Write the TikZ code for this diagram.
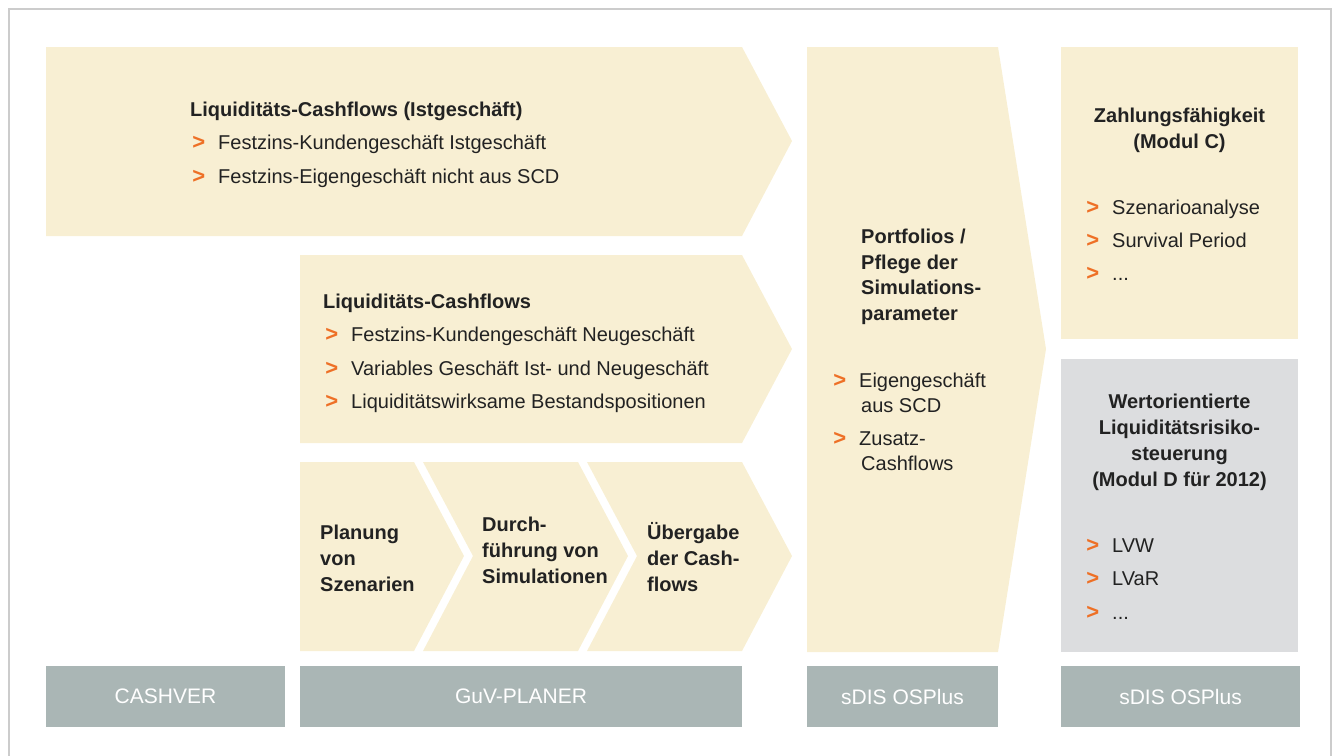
\documentclass[tikz,border=0pt]{standalone}
\usepackage{fontspec}
\setmainfont{Liberation Sans}
\usepackage{tikz}
\usetikzlibrary{positioning}

\definecolor{cream}{HTML}{F8EFD3}
\definecolor{barg}{HTML}{AAB6B5}
\definecolor{boxg}{HTML}{DCDDDF}
\definecolor{mark}{HTML}{EE7026}
\definecolor{ink}{HTML}{222222}
\definecolor{frame}{HTML}{CCCCCC}
\newcommand{\bul}{\llap{\textcolor{mark}{\fontsize{22}{26}\selectfont\bfseries >}\hspace{13pt}}}

\begin{document}
\begin{tikzpicture}[x=1pt, y=-1pt,
	txt/.style={text=ink, inner sep=0pt, font=\fontsize{20}{26}\selectfont},
	item/.style={txt, anchor=base west},
	hd/.style={txt, anchor=base west, font=\fontsize{20}{26}\selectfont\bfseries},
	hdc/.style={hd, anchor=base},
	bar/.style={fill=barg, text=white, inner sep=0pt, outer sep=0pt, minimum height=61pt, font=\fontsize{21}{26}\selectfont}]
	\useasboundingbox (0,0) rectangle (1332,755);
	\draw[frame, line width=1.2pt] (9,760) -- (9,9) -- (1331,9) -- (1331,760);

	\fill[cream] (46,47) -- (742,47) -- (792,141) -- (742,236) -- (46,236) -- cycle;
	\fill[cream] (300,255) -- (742,255) -- (792,349) -- (742,443) -- (300,443) -- cycle;
	\fill[cream] (300,462) -- (414,462) -- (464,556) -- (414,651) -- (300,651) -- cycle;
	\fill[cream] (423,462) -- (578,462) -- (628,556) -- (578,651) -- (423,651) -- (473,556) -- cycle;
	\fill[cream] (587,462) -- (742,462) -- (792,556) -- (742,651) -- (587,651) -- (637,556) -- cycle;
	\fill[cream] (807,47) -- (998,47) -- (1046,349) -- (998,652) -- (807,652) -- cycle;
	\fill[cream] (1061,47) rectangle (1298,339);
	\fill[boxg] (1061,359) rectangle (1298,652);

	\node[hd] (ist) at (190,116) {Liquiditäts-Cashflows (Istgeschäft)};
	\node[item] (ist1) at (218,149) {\bul Festzins-Kundengeschäft Istgeschäft};
	\node[item] (ist2) at (218,183) {\bul Festzins-Eigengeschäft nicht aus SCD};

	\node[hd] (neu) at (323,308) {Liquiditäts-Cashflows};
	\node[item] (neu1) at (351,341) {\bul Festzins-Kundengeschäft Neugeschäft};
	\node[item] (neu2) at (351,375) {\bul Variables Geschäft Ist- und Neugeschäft};
	\node[item] (neu3) at (351,408) {\bul Liquiditätswirksame Bestandspositionen};

	\node[hd] (plan) at (320,539) {Planung};
	\node[hd] (plan2) at (320,565) {von};
	\node[hd] (plan3) at (320,591) {Szenarien};
	\node[hd] (sim) at (482,531) {Durch-};
	\node[hd] (sim2) at (482,557) {führung von};
	\node[hd] (sim3) at (482,583) {Simulationen};
	\node[hd] (ueb) at (647,539) {Übergabe};
	\node[hd] (ueb2) at (647,565) {der Cash-};
	\node[hd] (ueb3) at (647,591) {flows};

	\node[hd] (port) at (861,243) {Portfolios /};
	\node[hd] (port2) at (861,269) {Pflege der};
	\node[hd] (port3) at (861,294) {Simulations-};
	\node[hd] (port4) at (861,320) {parameter};
	\node[item] (eig) at (859,387) {\bul Eigengeschäft};
	\node[item] (eig2) at (861,412) {aus SCD};
	\node[item] (zus) at (859,445) {\bul Zusatz-};
	\node[item] (zus2) at (861,470) {Cashflows};

	\node[hdc] (zf) at (1179.5,122) {Zahlungsfähigkeit};
	\node[hdc] (zf2) at (1179.5,148) {(Modul C)};
	\node[item] (zf3) at (1112,214) {\bul Szenarioanalyse};
	\node[item] (zf4) at (1112,247) {\bul Survival Period};
	\node[item] (zf5) at (1112,280) {\bul ...};

	\node[hdc] (wl) at (1179.5,408) {Wertorientierte};
	\node[hdc] (wl2) at (1179.5,434) {Liquiditätsrisiko-};
	\node[hdc] (wl3) at (1179.5,460) {steuerung};
	\node[hdc] (wl4) at (1179.5,486) {(Modul D für 2012)};
	\node[item] (wl5) at (1112,552) {\bul LVW};
	\node[item] (wl6) at (1112,585) {\bul LVaR};
	\node[item] (wl7) at (1112,619) {\bul ...};

	\node[bar, minimum width=239pt] (cashver) at (165.5,696.5) {CASHVER};
	\node[bar, minimum width=442pt] (guv) at (521,696.5) {GuV-PLANER};
	\node[bar, minimum width=191pt] (sdis) at (902.5,696.5) {sDIS OSPlus};
	\node[bar, minimum width=239pt] (sdis2) at (1180.5,696.5) {sDIS OSPlus};
\end{tikzpicture}
\end{document}
